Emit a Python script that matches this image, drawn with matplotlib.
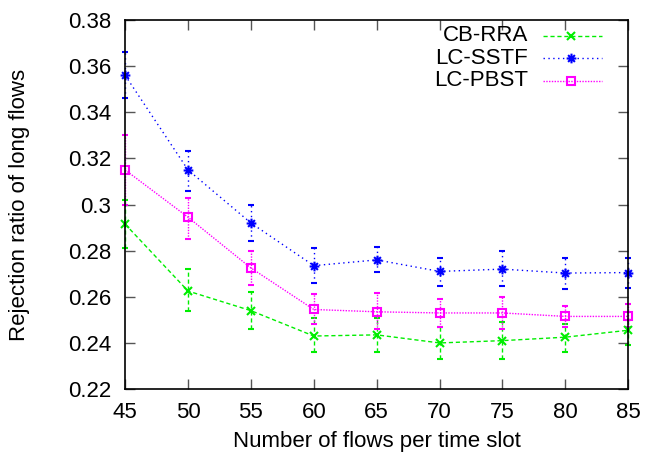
import matplotlib
matplotlib.use('Agg')
import matplotlib.pyplot as plt
from matplotlib.path import Path

plt.rcParams['font.family'] = ['Liberation Sans', 'DejaVu Sans']

# flows per time slot
flows = [45, 50, 55, 60, 65, 70, 75, 80, 85]

# CB-RRA
cb_rra = [0.2915, 0.2625, 0.254, 0.243, 0.2435, 0.240, 0.241, 0.2425, 0.2455]
cb_rra_hi = [0.302, 0.272, 0.262, 0.251, 0.251, 0.247, 0.249, 0.248, 0.250]
cb_rra_lo = [0.281, 0.254, 0.246, 0.236, 0.236, 0.233, 0.233, 0.236, 0.239]

# LC-SSTF
lc_sstf = [0.356, 0.315, 0.292, 0.2735, 0.276, 0.271, 0.272, 0.2703, 0.2705]
lc_sstf_hi = [0.366, 0.323, 0.300, 0.281, 0.2817, 0.277, 0.2797, 0.277, 0.277]
lc_sstf_lo = [0.346, 0.306, 0.284, 0.266, 0.2709, 0.2648, 0.2648, 0.2635, 0.264]

# LC-PBST
lc_pbst = [0.315, 0.2945, 0.2725, 0.2545, 0.2535, 0.253, 0.253, 0.2515, 0.2515]
lc_pbst_hi = [0.330, 0.303, 0.280, 0.261, 0.2617, 0.259, 0.260, 0.256, 0.257]
lc_pbst_lo = [0.300, 0.285, 0.265, 0.248, 0.246, 0.247, 0.246, 0.247, 0.247]

# gnuplot style asterisk: + and x on top of each other
star = Path([(-1, 0), (1, 0), (0, -1), (0, 1),
             (-0.7, -0.7), (0.7, 0.7), (-0.7, 0.7), (0.7, -0.7)],
            [Path.MOVETO, Path.LINETO] * 4)

series = [
    ('CB-RRA', cb_rra, cb_rra_lo, cb_rra_hi, '#00ee00', (0, (3, 2)), 'x', 6),
    ('LC-SSTF', lc_sstf, lc_sstf_lo, lc_sstf_hi, '#0000ff', (0, (1, 2.5)), star, 7),
    ('LC-PBST', lc_pbst, lc_pbst_lo, lc_pbst_hi, '#ff00ff', (0, (1, 1)), 's', 6),
]

fig = plt.figure(figsize=(6.45, 4.54), dpi=100)
ax = fig.add_axes([0.194, 0.143, 0.78, 0.813])

for i, (name, y, lo, hi, col, ls, mk, ms) in enumerate(series):
    err = [[v - l for v, l in zip(y, lo)], [h - v for v, h in zip(y, hi)]]
    eb = ax.errorbar(flows, y, yerr=err, color=col, linestyle=ls, linewidth=1.0,
                     marker=mk, markersize=ms, markerfacecolor='none',
                     markeredgewidth=1.5, capsize=2.5, elinewidth=1.0, clip_on=False)
    for bar in eb[2]:
        bar.set_linestyle(ls)

    # legend drawn gnuplot-like: right aligned text, sample on the right
    ty = 0.957 - i * 0.061
    ax.text(0.801, ty, name, transform=ax.transAxes, ha='right', va='center',
            fontsize=16)
    ax.plot([0.831, 0.948], [ty, ty], transform=ax.transAxes, color=col,
            linestyle=ls, linewidth=1.0)
    ax.plot([0.887], [ty], transform=ax.transAxes, color=col, marker=mk,
            markersize=ms, markerfacecolor='none', markeredgewidth=1.5)

ax.set_xlim(45, 85)
ax.set_ylim(0.22, 0.38)
ax.set_xticks(flows)
ax.set_yticks([0.22, 0.24, 0.26, 0.28, 0.30, 0.32, 0.34, 0.36, 0.38])
ax.set_yticklabels(['0.22', '0.24', '0.26', '0.28', '0.3', '0.32', '0.34',
                    '0.36', '0.38'])
ax.tick_params(direction='in', length=7, width=1, color='#555555',
               top=True, right=True, labelsize=16)
ax.tick_params(axis='y', pad=10)
ax.tick_params(axis='x', pad=9)
for s in ax.spines.values():
    s.set_linewidth(1.2)

ax.set_xlabel('Number of flows per time slot', fontsize=16, va='center')
ax.set_ylabel('Rejection ratio of long flows', fontsize=16, va='center')
ax.xaxis.set_label_coords(0.5, -0.141)
ax.yaxis.set_label_coords(-0.209, 0.5)

fig.savefig('out.png', dpi=100)
